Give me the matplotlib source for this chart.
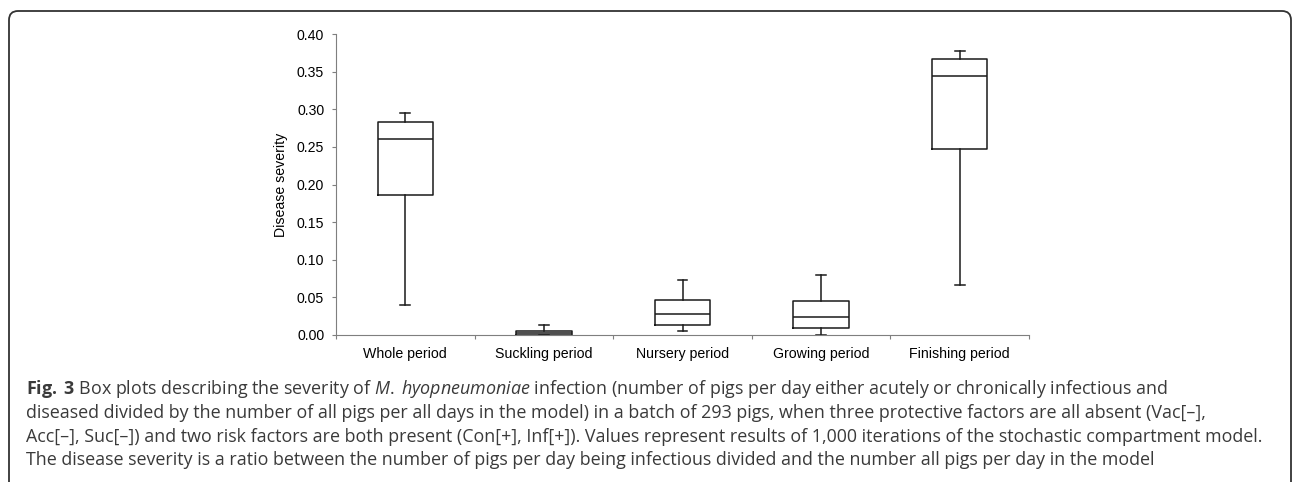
import matplotlib
matplotlib.use("Agg")
import matplotlib.pyplot as plt
from matplotlib.patches import FancyBboxPatch
from matplotlib.transforms import IdentityTransform

# box plot summaries
periods = ["Whole period", "Suckling period", "Nursery period", "Growing period", "Finishing period"]
whis_lo = [0.040, 0.000, 0.0053, 0.000, 0.066]
q1 = [0.186, 0.000, 0.013, 0.0093, 0.247]
med = [0.261, 0.002, 0.0275, 0.0235, 0.344]
q3 = [0.283, 0.0057, 0.047, 0.0455, 0.367]
whis_hi = [0.295, 0.0137, 0.0735, 0.0796, 0.378]
yticks = [0.00, 0.05, 0.10, 0.15, 0.20, 0.25, 0.30, 0.35, 0.40]

caption = [
    r"$\mathbf{Fig.\;3}$ Box plots describing the severity of $\mathit{M.\;hyopneumoniae}$ infection (number of pigs per day either acutely or chronically infectious and",
    "diseased divided by the number of all pigs per all days in the model) in a batch of 293 pigs, when three protective factors are all absent (Vac[\u2013],",
    "Acc[\u2013], Suc[\u2013]) and two risk factors are both present (Con[+], Inf[+]). Values represent results of 1,000 iterations of the stochastic compartment model.",
    "The disease severity is a ratio between the number of pigs per day being infectious divided and the number all pigs per day in the model",
]

plt.rcParams['mathtext.fontset'] = 'custom'
plt.rcParams['mathtext.rm'] = 'Open Sans'
plt.rcParams['mathtext.it'] = 'Open Sans:italic'
plt.rcParams['mathtext.bf'] = 'Open Sans:bold'

W, H = 1292, 482
fig = plt.figure(figsize=(W / 100, H / 100), dpi=100)
fig.patch.set_facecolor("white")

ax = fig.add_axes([336 / W, 1 - 335 / H, (1029 - 336) / W, (335 - 34) / H])

stats = []
for i in range(len(periods)):
    stats.append(dict(med=med[i], q1=q1[i], q3=q3[i], whislo=whis_lo[i], whishi=whis_hi[i], fliers=[]))

lp = dict(color="#1a1a1a", linewidth=1.1)
ax.bxp(stats, positions=range(len(periods)), widths=0.40, capwidths=0.07,
       showfliers=False, boxprops=lp, medianprops=lp, whiskerprops=lp, capprops=lp)

ax.set_xlim(-0.5, len(periods) - 0.5)
ax.set_ylim(0, 0.40)
ax.set_yticks(yticks)
ax.set_yticklabels(["%.2f" % v for v in yticks], family="Liberation Sans", fontsize=10.2)
ax.set_xticks(range(len(periods)))
ax.set_xticklabels(periods, family="Liberation Sans", fontsize=10.2)
ax.set_xticks([i - 0.5 for i in range(len(periods) + 1)], minor=True)
ax.tick_params(axis="x", which="major", length=0, pad=8.5)
ax.tick_params(axis="x", which="minor", length=3, width=0.8, color="#7f7f7f", direction="out")
ax.tick_params(axis="y", length=3, width=0.8, color="#7f7f7f", pad=5.5)
for s in ["top", "right"]:
    ax.spines[s].set_visible(False)
for s in ["left", "bottom"]:
    ax.spines[s].set_color("#7f7f7f")
    ax.spines[s].set_linewidth(0.8)
ax.set_ylabel("Disease severity", family="Liberation Sans", fontsize=10.2, labelpad=6)

# caption
baselines = [394, 418, 442, 465]
for line, yb in zip(caption, baselines):
    fig.text(26 / W, 1 - yb / H, line, family="Open Sans", fontsize=12.9,
             color="#3a3a3a", va="baseline", ha="left")

# rounded frame around the figure
frame = FancyBboxPatch((9, -30), 1282, H - 11 + 30, boxstyle="round,pad=0,rounding_size=9",
                       transform=IdentityTransform(), fill=False, edgecolor="#333333", linewidth=1.3)
fig.patches.append(frame)

fig.savefig("out.png", dpi=100, facecolor="white")
